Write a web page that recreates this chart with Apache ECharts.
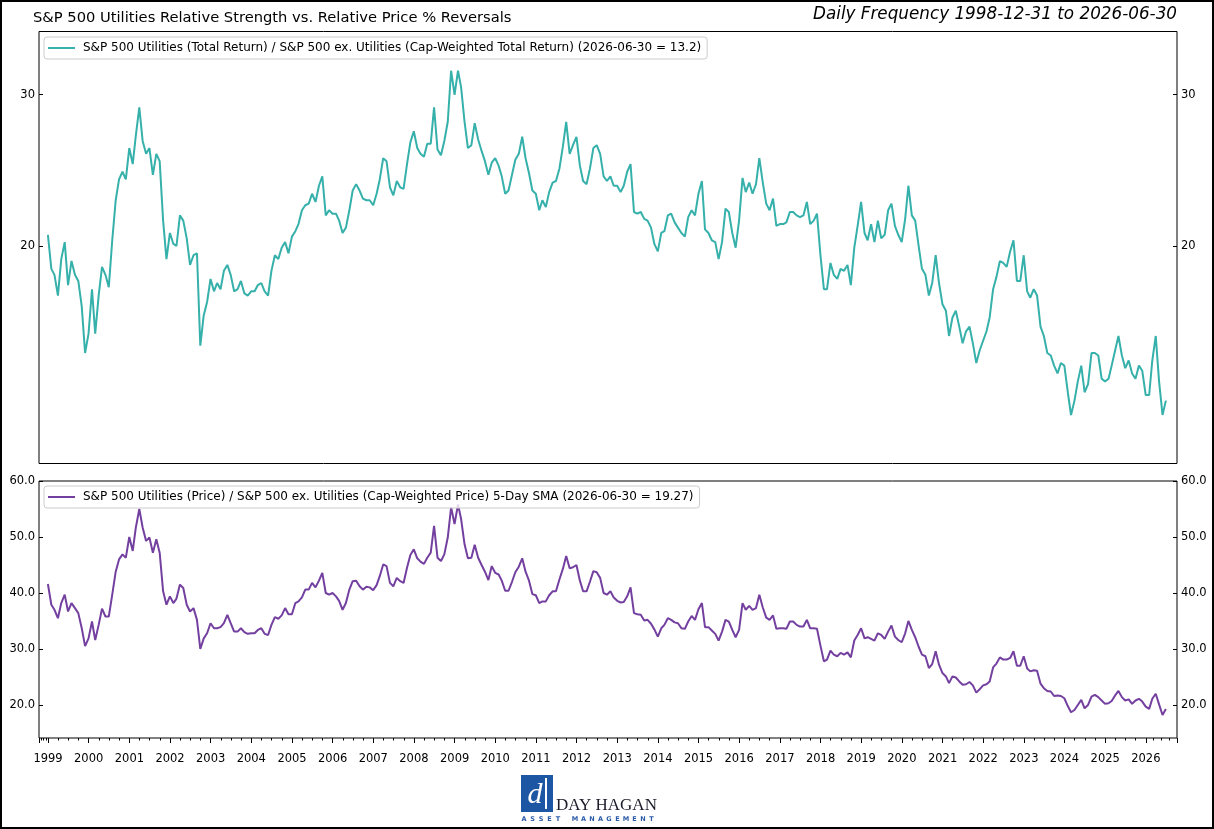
<!DOCTYPE html>
<html>
<head>
<meta charset="utf-8">
<script src="https://cdn.jsdelivr.net/npm/echarts@6/dist/echarts.min.js"></script>
<style>
html,body{margin:0;padding:0;background:#fff;}
#c{width:1214px;height:829px;}
</style>
</head>
<body>
<div id="c"></div>
<script>
// Month-end samples, first = 1998-12-31, last = 2026-06-30
const relStrength = [
20.6,18.8,18.5,17.5,19.3,20.2,18.0,19.2,18.5,18.2,
17.0,15.0,15.8,17.8,15.8,17.5,18.9,18.5,17.9,20.3,
22.6,23.9,24.4,23.9,26.0,24.9,26.9,29.0,26.5,25.6,
26.0,24.2,25.6,25.1,21.4,19.3,20.7,20.1,20.0,21.7,
21.4,20.4,19.0,19.5,19.6,15.3,16.6,17.2,18.3,17.7,
18.1,17.8,18.7,19.0,18.5,17.7,17.8,18.2,17.6,17.5,
17.7,17.7,18.0,18.1,17.7,17.5,18.7,19.5,19.3,19.9,
20.2,19.6,20.5,20.8,21.2,22.0,22.3,22.4,23.0,22.5,
23.5,24.1,21.7,22.0,21.8,21.8,21.4,20.7,21.0,22.0,
23.2,23.6,23.2,22.7,22.6,22.6,22.3,23.0,23.9,25.3,
25.1,23.4,22.9,23.8,23.4,23.3,24.9,26.4,27.2,26.0,
25.6,25.4,26.3,26.3,29.0,25.9,25.5,26.5,27.9,32.0,
30.0,32.0,30.6,27.9,26.0,26.2,27.8,26.6,25.8,25.1,
24.2,25.0,25.3,24.8,24.1,23.0,23.2,24.2,25.2,25.6,
26.8,25.3,24.3,23.2,23.0,22.0,22.6,22.2,23.1,23.7,
23.8,24.6,26.1,27.9,25.6,26.2,26.8,24.8,23.8,23.6,
24.6,26.0,26.2,25.6,24.1,23.8,24.1,23.5,23.5,23.1,
23.5,24.4,24.9,21.9,21.8,21.9,21.5,21.4,21.0,20.1,
19.7,20.7,20.8,21.7,21.8,21.3,21.0,20.7,20.5,21.6,
22.0,21.7,23.0,23.8,20.9,20.7,20.3,20.2,19.3,20.2,
22.1,21.9,20.7,19.9,21.4,24.0,23.1,23.7,23.0,23.6,
25.3,23.7,22.4,22.0,22.7,21.1,21.2,21.2,21.3,21.9,
21.9,21.7,21.6,21.7,22.5,21.2,21.4,21.8,19.5,17.8,
17.8,19.1,18.5,18.3,18.8,18.7,19.0,18.0,19.9,21.1,
22.5,20.7,20.3,21.2,20.2,21.4,20.4,20.6,22.0,22.4,
21.1,20.6,20.2,21.5,23.5,21.7,21.4,20.0,18.8,18.5,
17.5,18.1,19.5,18.1,17.1,16.8,15.7,16.5,16.8,16.1,
15.4,15.9,16.1,15.4,14.6,15.1,15.5,15.9,16.5,17.8,
18.4,19.2,19.1,18.9,19.7,20.3,18.2,18.2,19.5,17.7,
17.4,17.8,17.5,16.1,15.7,15.0,14.9,14.5,14.2,14.6,
14.5,13.5,12.7,13.2,13.9,14.5,13.5,13.8,15.0,15.0,
14.9,14.0,13.9,14.0,14.5,15.1,15.7,14.9,14.4,14.7,
14.2,14.0,14.5,14.3,13.4,13.4,14.7,15.7,13.9,12.7,
13.2
];
const relPrice = [
41.6,37.9,37.0,35.5,38.2,39.7,36.7,38.2,37.3,36.4,
33.7,30.5,31.9,34.9,31.6,34.3,37.2,35.8,35.8,39.7,
43.8,46.0,46.9,46.3,50.0,47.5,51.7,55.0,51.7,49.3,
49.9,47.2,49.6,47.2,40.3,37.9,39.4,38.2,39.0,41.5,
40.9,37.9,36.7,37.3,35.2,30.0,31.9,32.8,34.6,33.7,
33.7,33.9,34.6,36.1,34.6,33.1,33.1,33.7,33.0,32.7,
32.8,32.8,33.4,33.7,32.7,32.5,34.3,35.7,35.4,36.0,
37.3,36.2,36.2,38.2,38.5,39.2,40.6,40.6,41.8,41.0,
42.2,43.6,40.0,39.7,40.0,39.4,38.6,37.0,38.2,40.6,
42.1,42.2,41.2,40.6,41.1,41.0,40.5,41.4,43.0,45.1,
44.8,41.8,41.2,42.7,42.1,41.8,44.5,46.8,47.8,46.2,
45.6,45.2,46.3,47.2,52.0,46.3,45.7,46.9,49.9,55.3,
52.3,55.8,53.2,48.7,46.2,46.3,48.6,46.3,45.0,43.8,
42.3,44.8,43.6,43.3,42.2,40.4,40.4,42.0,43.7,44.7,
46.2,43.8,42.2,39.8,39.6,38.2,38.5,38.5,39.6,40.3,
40.3,42.4,44.3,46.6,44.4,44.6,45.0,42.2,40.3,40.3,
42.0,43.9,43.7,42.7,40.0,39.7,40.3,39.2,38.6,38.3,
38.4,39.4,41.0,36.4,36.2,36.1,35.1,35.2,34.5,33.5,
32.2,33.7,34.3,35.5,35.2,34.75,34.6,33.7,33.6,34.9,
35.9,35.2,37.1,38.2,33.9,33.9,33.3,32.7,31.5,33.1,
35.2,34.9,33.4,32.1,33.4,38.2,37.0,37.7,37.0,37.3,
39.7,37.4,35.6,35.2,36.0,33.6,33.7,33.7,33.6,34.9,
34.9,34.3,34.0,34.0,35.2,33.7,33.7,33.6,30.6,27.8,
28.1,29.7,29.0,28.7,29.3,29.0,29.4,28.5,31.5,32.5,
33.7,31.9,32.1,31.8,31.5,32.8,32.5,31.8,33.1,34.2,
32.2,31.6,31.2,32.8,35.0,33.4,32.1,30.4,29.0,28.7,
26.6,27.3,29.6,27.2,25.7,25.1,23.9,25.1,24.9,24.2,
23.6,23.7,24.1,23.5,22.2,22.8,23.5,23.7,24.2,26.7,
27.4,28.5,28.1,28.1,28.4,29.6,27.0,27.0,28.7,26.5,
26.0,26.2,26.1,23.8,23.0,22.5,22.4,21.6,21.7,21.6,
21.2,19.8,18.7,19.1,20.0,20.9,19.4,20.0,21.5,21.8,
21.4,20.8,20.2,20.3,20.7,21.7,22.5,21.4,20.8,21.0,
20.2,20.8,21.1,20.6,19.7,19.3,21.1,22.0,20.1,18.2,
19.27
];
const topTicks = [20, 30];
const bottomTicks = [20, 30, 40, 50, 60];
const topRange = [11.15, 35.55];
const bottomRange = [14.1, 60];
const xRange = ['1998-10-12', '2026-10-08'];

const nameTop = 'S&P 500 Utilities (Total Return) / S&P 500 ex. Utilities (Cap-Weighted Total Return) (2026-06-30 = 13.2)';
const nameBot = 'S&P 500 Utilities (Price) / S&P 500 ex. Utilities (Cap-Weighted Price) 5-Day SMA (2026-06-30 = 19.27)';
const titleText = 'S&P 500 Utilities Relative Strength vs. Relative Price % Reversals';
const subText = 'Daily Frequency 1998-12-31 to 2026-06-30';

const monthEnd = k => Date.UTC(1999, k, 0);
const topData = relStrength.map((v, k) => [monthEnd(k), v]);
const botData = relPrice.map((v, k) => [monthEnd(k), v]);

const FONT = 'DejaVu Sans';
const YEAR = 365.25 * 86400000;
const lg10 = Math.log10;

const chart = echarts.init(document.getElementById('c'), null, {renderer: 'canvas'});

function yValAxis(grid, pos, min, max, ticks, fmt) {
  return {
    gridIndex: grid, type: 'value', position: pos, min: min, max: max,
    axisLine: {show: false},
    splitLine: {show: false},
    axisTick: {show: true, inside: true, length: 4, customValues: ticks, lineStyle: {color: '#000', width: 1}},
    axisLabel: {show: true, customValues: ticks, margin: 4, formatter: fmt,
      fontFamily: FONT, fontSize: 11.5, color: '#000'}
  };
}

const legendBase = {
  orient: 'horizontal', icon: 'rect', itemWidth: 27, itemHeight: 2, itemGap: 0,
  padding: [5, 6, 5, 4], borderColor: '#cccccc', borderWidth: 1, borderRadius: 3,
  backgroundColor: 'rgba(255,255,255,0.8)', selectedMode: false,
  textStyle: {fontFamily: FONT, fontSize: 12, color: '#000', padding: [0, 0, 0, 3]}
};

const mgmt = 'ASSET MANAGEMENT'.split('');
const logoLetters = mgmt.map((ch, i) => ({
  type: 'text', x: 524 + i * 8.5, y: 823,
  style: {text: ch, fill: '#2b5aa8', font: 'bold 6.5px "DejaVu Sans"', textAlign: 'center', textVerticalAlign: 'bottom'}
}));

chart.setOption({
  animation: false,
  backgroundColor: '#fff',
  title: [
    {text: titleText, left: 33, top: 11, padding: 0,
     textStyle: {fontFamily: FONT, fontSize: 14.7, fontWeight: 'normal', color: '#000'}},
    {text: subText, right: 37, top: 6, padding: 0,
     textStyle: {fontFamily: FONT, fontSize: 16.8, fontStyle: 'italic', fontWeight: 'normal', color: '#000'}}
  ],
  legend: [
    Object.assign({}, legendBase, {data: [nameTop], left: 44, top: 37}),
    Object.assign({}, legendBase, {data: [nameBot], left: 44, top: 486})
  ],
  grid: [
    {left: 39, width: 1138, top: 31.5, height: 432, show: true, borderColor: '#000', borderWidth: 1, backgroundColor: 'transparent'},
    {left: 39, width: 1138, top: 481, height: 257, show: true, borderColor: '#000', borderWidth: 1, backgroundColor: 'transparent'}
  ],
  xAxis: [
    {gridIndex: 0, type: 'time', min: xRange[0], max: xRange[1],
     axisLine: {show: false}, axisTick: {show: false}, axisLabel: {show: false}, splitLine: {show: false}},
    {gridIndex: 1, type: 'time', min: xRange[0], max: xRange[1],
     minInterval: YEAR * 0.98, maxInterval: YEAR * 1.02,
     axisLine: {show: false},
     axisTick: {show: true, length: 5, lineStyle: {color: '#000'}},
     minorTick: {show: true, splitNumber: 4, length: 2.5, lineStyle: {color: '#000'}},
     splitLine: {show: false},
     axisLabel: {formatter: '{yyyy}', margin: 15, fontFamily: FONT, fontSize: 11.5, color: '#000', hideOverlap: false}}
  ],
  yAxis: [
    {gridIndex: 0, type: 'log', logBase: 10, min: topRange[0], max: topRange[1], show: false},
    yValAxis(0, 'left', lg10(topRange[0]), lg10(topRange[1]), topTicks.map(lg10), v => String(Math.round(Math.pow(10, v)))),
    yValAxis(0, 'right', lg10(topRange[0]), lg10(topRange[1]), topTicks.map(lg10), v => String(Math.round(Math.pow(10, v)))),
    yValAxis(1, 'left', bottomRange[0], bottomRange[1], bottomTicks, v => v.toFixed(1)),
    yValAxis(1, 'right', bottomRange[0], bottomRange[1], bottomTicks, v => v.toFixed(1))
  ],
  series: [
    {name: nameTop, type: 'line', xAxisIndex: 0, yAxisIndex: 0, data: topData,
     showSymbol: false, symbol: 'none', lineStyle: {color: '#36b0aa', width: 2}, itemStyle: {color: '#36b0aa'}},
    {name: nameBot, type: 'line', xAxisIndex: 1, yAxisIndex: 3, data: botData,
     showSymbol: false, symbol: 'none', lineStyle: {color: '#7440a0', width: 2}, itemStyle: {color: '#7440a0'}}
  ],
  graphic: [
    {type: 'rect', shape: {x: 1, y: 1, width: 1212, height: 827}, style: {fill: 'none', stroke: '#000', lineWidth: 2}, silent: true},
    {type: 'rect', shape: {x: 521, y: 775, width: 32, height: 37}, style: {fill: '#1d56a3'}},
    {type: 'rect', shape: {x: 545, y: 778, width: 2, height: 31}, style: {fill: '#ffffff'}},
    {type: 'text', x: 535, y: 810, style: {text: 'd', fill: '#ffffff', font: 'italic 30px "Liberation Serif"', textAlign: 'center', textVerticalAlign: 'bottom'}},
    {type: 'text', x: 556, y: 814, style: {text: 'DAY HAGAN', fill: '#1b1b2a', font: '17px "Liberation Serif"', textAlign: 'left', textVerticalAlign: 'bottom'}}
  ].concat(logoLetters)
});
</script>
</body>
</html>
